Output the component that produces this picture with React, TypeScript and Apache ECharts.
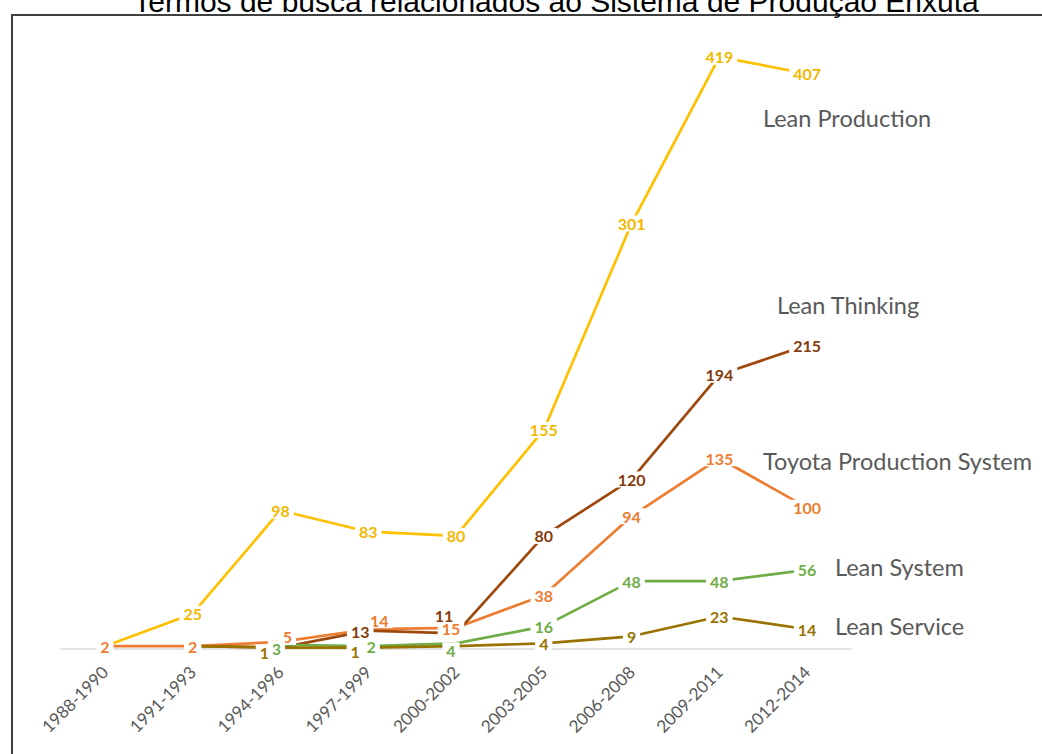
import { useEffect, useRef } from "react";
import * as echarts from "echarts";

// Search periods (x axis)
const periods = [
  "1988-1990",
  "1991-1993",
  "1994-1996",
  "1997-1999",
  "2000-2002",
  "2003-2005",
  "2006-2008",
  "2009-2011",
  "2012-2014",
];

// Number of results per search term and period
const leanProduction = [2, 25, 98, 83, 80, 155, 301, 419, 407];
const toyotaProductionSystem = [2, 2, 5, 14, 15, 38, 94, 135, 100];
const leanThinking = [null, 2, 1, 13, 11, 80, 120, 194, 215];
const leanSystem = [null, null, 3, 2, 4, 16, 48, 48, 56];
const leanService = [null, 2, 1, 1, 2, 4, 9, 23, 14];

const TITLE = "Termos de busca relacionados ao Sistema de Produção Enxuta";

type Tweak = { hide?: boolean; offset?: [number, number] };

// series definitions: colour, label colour, and label nudges where points crowd together
const SERIES = [
  {
    name: "Lean Production",
    data: leanProduction,
    color: "#FFC000",
    labelColor: "#F2B800",
    tweaks: { 0: { hide: true } } as Record<number, Tweak>,
    tag: { x: 763, y: 118, padLeft: 0 },
  },
  {
    name: "Toyota Production System",
    data: toyotaProductionSystem,
    color: "#ED7D31",
    labelColor: "#ED7D31",
    tweaks: {
      2: { offset: [7, -5] },
      3: { offset: [11, -9] },
      4: { offset: [-5, 1] },
    } as Record<number, Tweak>,
    tag: { x: 763, y: 461, padLeft: 0 },
  },
  {
    name: "Lean Thinking",
    data: leanThinking,
    color: "#9E480E",
    labelColor: "#843C0C",
    tweaks: {
      1: { hide: true },
      2: { hide: true },
      3: { offset: [-8, 1] },
      4: { offset: [-12, -18] },
    } as Record<number, Tweak>,
    tag: { x: 777, y: 305, padLeft: 0 },
  },
  {
    name: "Lean System",
    data: leanSystem,
    color: "#70AD47",
    labelColor: "#70AD47",
    tweaks: {
      2: { offset: [-4, 4] },
      3: { offset: [3, 0] },
      4: { offset: [-5, 7] },
    } as Record<number, Tweak>,
    // the text box reaches left over the last point's label
    tag: { x: 835, y: 567, padLeft: 19 },
  },
  {
    name: "Lean Service",
    data: leanService,
    color: "#997300",
    labelColor: "#997300",
    tweaks: {
      1: { hide: true },
      2: { offset: [-16, 5] },
      3: { offset: [-13, 4] },
      4: { hide: true },
    } as Record<number, Tweak>,
    tag: { x: 835, y: 626, padLeft: 0 },
  },
];

export default function App() {
  const ref = useRef<HTMLDivElement>(null);

  useEffect(() => {
    if (!ref.current) return;
    const chart = echarts.init(ref.current, null, { renderer: "svg" });

    const series = SERIES.map((s) => ({
      name: s.name,
      type: "line",
      data: s.data.map((v, i) => {
        const t = s.tweaks[i];
        if (v === null) return null;
        if (!t) return v;
        return {
          value: v,
          label: t.hide
            ? { show: false }
            : { show: true, position: "inside", offset: t.offset },
        };
      }),
      symbol: "circle",
      symbolSize: 2,
      showSymbol: true,
      showAllSymbol: true,
      itemStyle: { color: "rgba(255,255,255,0)" },
      lineStyle: { color: s.color, width: 2.7 },
      connectNulls: false,
      label: {
        show: true,
        position: "inside",
        color: s.labelColor,
        fontFamily: "Lato",
        fontWeight: "bold",
        fontSize: 16,
        backgroundColor: "#ffffff",
        padding: [0, 4],
      },
      emphasis: { disabled: true },
    }));

    const tags = SERIES.map((s) => ({
      type: "text",
      x: s.tag.x - s.tag.padLeft,
      y: s.tag.y,
      z: 100,
      style: {
        text: s.name,
        fill: "#595959",
        font: "23.5px Lato",
        textVerticalAlign: "middle",
        textAlign: "left",
        backgroundColor: "#ffffff",
        padding: [2, 0, 2, s.tag.padLeft],
      },
    }));

    chart.setOption({
      animation: false,
      backgroundColor: "#ffffff",
      grid: { left: 61, right: 191, top: 13, bottom: 105 },
      xAxis: {
        type: "category",
        data: periods,
        boundaryGap: true,
        axisLine: { lineStyle: { color: "#D9D9D9", width: 1.5 } },
        axisTick: { show: false },
        axisLabel: {
          rotate: 45,
          margin: 20,
          color: "#595959",
          fontFamily: "Lato",
          fontSize: 17,
        },
      },
      yAxis: {
        type: "value",
        min: 0,
        max: 450,
        show: false,
      },
      series,
      graphic: [
        {
          type: "rect",
          z: 90,
          shape: { x: 12, y: 15, width: 1100, height: 800 },
          style: { fill: "none", stroke: "#404040", lineWidth: 2 },
        },
        {
          type: "text",
          x: 556,
          y: 1,
          z: 100,
          style: {
            text: TITLE,
            fill: "#000000",
            font: "30px 'Liberation Sans'",
            textAlign: "center",
            textVerticalAlign: "middle",
          },
        },
        ...tags,
      ],
    });

    return () => chart.dispose();
  }, []);

  return (
    <div
      ref={ref}
      style={{
        position: "fixed",
        left: 0,
        top: 0,
        width: 1042,
        height: 754,
        background: "#ffffff",
      }}
    />
  );
}
